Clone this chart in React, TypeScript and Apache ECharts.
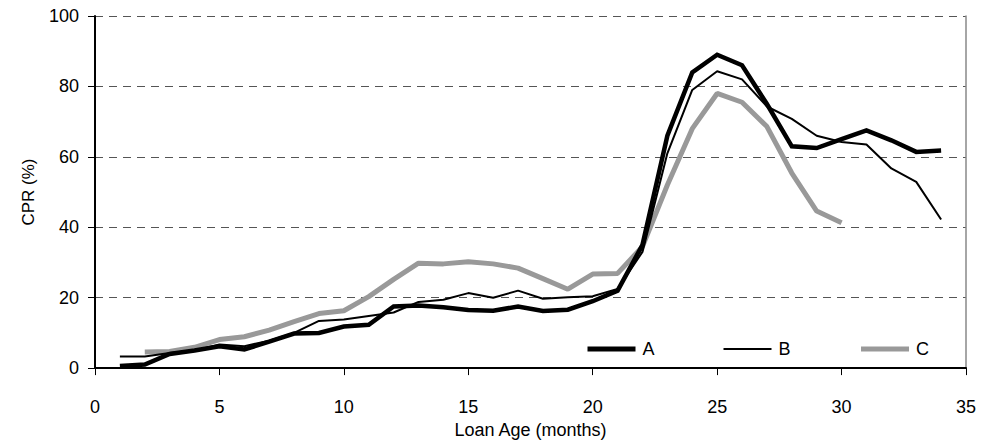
import React, { useEffect, useRef } from "react";
import * as echarts from "echarts";

const monthsAB = [1, 2, 3, 4, 5, 6, 7, 8, 9, 10, 11, 12, 13, 14, 15, 16, 17, 18, 19, 20, 21, 22, 23, 24, 25, 26, 27, 28, 29, 30, 31, 32, 33, 34];
const monthsC = [2, 3, 4, 5, 6, 7, 8, 9, 10, 11, 12, 13, 14, 15, 16, 17, 18, 19, 20, 21, 22, 23, 24, 25, 26, 27, 28, 29, 30];

const seriesA = [0.6, 1, 4, 5, 6.2, 5.3, 7.5, 9.8, 10, 11.8, 12.3, 17.5, 17.8, 17.3, 16.5, 16.3, 17.5, 16.2, 16.6, 19, 22, 35, 66, 84, 89, 86, 75, 63, 62.5, 65, 67.5, 64.7, 61.4, 61.8];
const seriesB = [3.3, 3.3, 4.3, 5, 6.7, 6.2, 7.8, 10, 13.4, 13.8, 14.8, 15.8, 18.8, 19.4, 21.3, 20, 22, 19.7, 20.1, 20.4, 22.5, 33, 61, 79, 84.3, 82, 74.3, 70.8, 66, 64.2, 63.5, 56.7, 52.9, 42.2];
const seriesC = [4.6, 4.7, 5.9, 8.1, 8.9, 10.8, 13.2, 15.5, 16.3, 20.3, 25.2, 29.8, 29.6, 30.2, 29.6, 28.4, 25.4, 22.4, 26.7, 26.9, 34.5, 52, 68, 78, 75.5, 68.6, 55.4, 44.6, 41.3];

const seriesNames = ["A", "B", "C"];
const xTicks = { min: 0, max: 35, interval: 5 };
const yTicks = { min: 0, max: 100, interval: 20 };

const FONT = "'Liberation Sans', Arial, sans-serif";

function pairs(xs: number[], ys: number[]) {
  return xs.map((x, i) => [x, ys[i]]);
}

export default function App() {
  const ref = useRef<HTMLDivElement>(null);
  useEffect(() => {
    document.body.style.margin = "0";
    if (!ref.current) return;
    const chart = echarts.init(ref.current, undefined, { renderer: "svg" });
    chart.setOption({
      animation: false,
      backgroundColor: "#ffffff",
      textStyle: { fontFamily: FONT },
      grid: { left: 95, right: 18, top: 16, bottom: 75, containLabel: false },
      legend: {
        left: 585,
        top: 340,
        padding: 0,
        itemWidth: 48,
        itemHeight: 18,
        itemGap: 68,
        textStyle: { fontFamily: FONT, fontSize: 18, color: "#000", padding: [0, 0, 0, 2] },
        data: [
          { name: seriesNames[0], lineStyle: { width: 5, color: "#000" }, itemStyle: { opacity: 0 } },
          { name: seriesNames[1], lineStyle: { width: 2, color: "#000" }, itemStyle: { opacity: 0 } },
          { name: seriesNames[2], lineStyle: { width: 5, color: "#999" }, itemStyle: { opacity: 0 } },
        ],
      },
      xAxis: {
        type: "value",
        min: xTicks.min,
        max: xTicks.max,
        interval: xTicks.interval,
        name: "Loan Age (months)",
        nameLocation: "middle",
        nameGap: 51,
        nameTextStyle: { fontFamily: FONT, fontSize: 18, color: "#000" },
        axisLine: { show: true, onZero: false, lineStyle: { color: "#000", width: 2 } },
        axisTick: { show: true, inside: false, length: 7, lineStyle: { color: "#000", width: 1 } },
        axisLabel: { fontFamily: FONT, fontSize: 18, color: "#000", margin: 30 },
        splitLine: { show: false },
      },
      yAxis: [
        {
          type: "value",
          min: yTicks.min,
          max: yTicks.max,
          interval: yTicks.interval,
          name: "CPR (%)",
          nameLocation: "middle",
          nameGap: 58,
          nameTextStyle: { fontFamily: FONT, fontSize: 17, color: "#000" },
          axisLine: { show: true, lineStyle: { color: "#000", width: 2 } },
          axisTick: { show: true, inside: false, length: 7, lineStyle: { color: "#000", width: 1 } },
          axisLabel: { fontFamily: FONT, fontSize: 18, color: "#000", margin: 16 },
          splitLine: { show: true, lineStyle: { color: "#555", width: 1.2, type: [8, 6] } },
        },
        {
          type: "value",
          position: "right",
          min: yTicks.min,
          max: yTicks.max,
          interval: yTicks.interval,
          axisLine: { show: true, lineStyle: { color: "#888", width: 1.5 } },
          axisTick: { show: false },
          axisLabel: { show: false },
          splitLine: { show: false },
        },
      ],
      series: [
        {
          name: seriesNames[0],
          type: "line",
          data: pairs(monthsAB, seriesA),
          symbol: "none",
          z: 4,
          lineStyle: { color: "#000", width: 4.5, join: "miter" },
          itemStyle: { color: "#000" },
        },
        {
          name: seriesNames[1],
          type: "line",
          data: pairs(monthsAB, seriesB),
          symbol: "none",
          z: 5,
          lineStyle: { color: "#000", width: 2 },
          itemStyle: { color: "#000" },
        },
        {
          name: seriesNames[2],
          type: "line",
          data: pairs(monthsC, seriesC),
          symbol: "none",
          z: 3,
          lineStyle: { color: "#999", width: 5 },
          itemStyle: { color: "#999" },
        },
      ],
    });
    return () => chart.dispose();
  }, []);
  return <div ref={ref} style={{ width: 984, height: 444 }} />;
}
